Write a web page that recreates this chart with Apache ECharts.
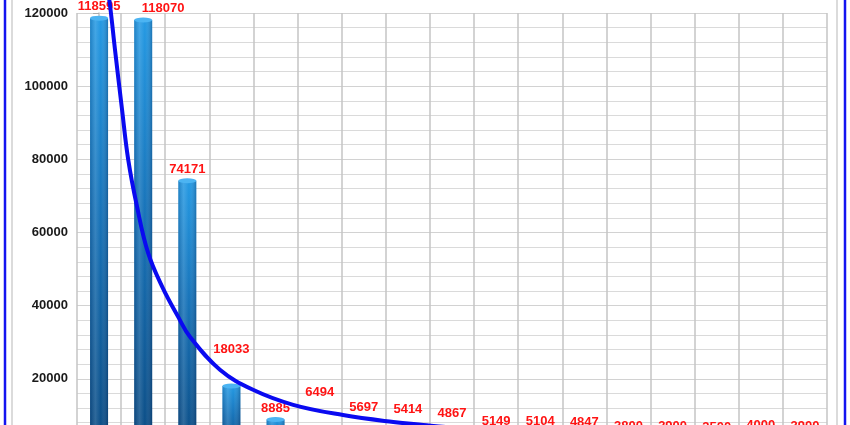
<!DOCTYPE html>
<html>
<head>
<meta charset="utf-8">
<script src="https://cdn.jsdelivr.net/npm/echarts@6/dist/echarts.min.js"></script>
<style>
html,body{margin:0;padding:0;background:#fff;overflow:hidden;}
#chart{width:850px;height:425px;}
</style>
</head>
<body>
<div id="chart"></div>
<script>
// ---- data ----
const categories = ['1','2','3','4','5','6','7','8','9','10','11','12','13','14','15','16','17'];
const barValues  = [118595,118070,74171,18033,8885,6494,5697,5414,4867,5149,5104,4847,3800,3900,3500,4000,3900];
// trend curve (position in category units from the first bar, value)
const trendX = [0.1,0.25,0.36,0.52,0.66,0.86,1.11,1.43,1.79,2.06,2.74,3.49,4.40,5.53,6.67,7.35,8,9,10,11,12,13,14,15,16];
const trendY = [135000,121900,110100,93700,80000,67100,54500,45200,37000,31500,22500,17000,12900,10100,8200,7400,6700,5900,5200,4700,4200,3900,3600,3300,3100];
const yTicks = [0,20000,40000,60000,80000,100000,120000];

// ---- label style nudges (style only, not data) ----
const labelNudge = [[0,0],[20,0],[0,0],[0,-25],[0,0],[0,-24],[0,-12],[0,-11],[0,-9],[0,0],[0,0],[0,0],[0,0],[0,0],[0,0],[0,0],[0,0]];

const chart = echarts.init(document.getElementById('chart'), null, {renderer:'canvas'});

const barFill = new echarts.graphic.LinearGradient(0,0,0,1,[
  {offset:0,color:'#2499e3'},
  {offset:0.45,color:'#1672b8'},
  {offset:1,color:'#0a4a82'}
]);
const barShade = new echarts.graphic.LinearGradient(0,0,1,0,[
  {offset:0,color:'rgba(0,20,60,0.18)'},
  {offset:0.3,color:'rgba(255,255,255,0.14)'},
  {offset:0.6,color:'rgba(255,255,255,0)'},
  {offset:1,color:'rgba(0,20,60,0.28)'}
]);

const option = {
  backgroundColor:'#ffffff',
  animation:false,
  grid:{left:77,right:23,top:13,bottom:-27,containLabel:false,outerBoundsMode:'none'},
  xAxis:[{
    type:'category',
    data:categories,
    boundaryGap:true,
    axisLine:{show:true,lineStyle:{color:'#bdbdbd'}},
    axisTick:{show:false},
    axisLabel:{show:false},
    splitLine:{show:true,interval:0,lineStyle:{color:'#c4c4c4',width:1.5}}
  },{
    type:'value',
    min:-0.5,
    max:categories.length-0.5,
    show:false,
    splitLine:{show:false}
  }],
  yAxis:{
    type:'value',
    min:yTicks[0],
    max:yTicks[yTicks.length-1],
    interval:yTicks[1]-yTicks[0],
    axisLine:{show:true,lineStyle:{color:'#c4c4c4',width:1.5}},
    axisTick:{show:true,length:6,lineStyle:{color:'#aaaaaa'}},
    axisLabel:{margin:9,color:'#1a1a1a',fontWeight:'bold',fontSize:13,fontFamily:'Liberation Sans, Arial, sans-serif',formatter:v=>String(v)},
    splitLine:{show:true,lineStyle:{color:'#d2d2d2',width:1}},
    minorTick:{show:false,splitNumber:5},
    minorSplitLine:{show:true,lineStyle:{color:'#dadada',width:1}}
  },
  graphic:[
    {type:'rect',shape:{x:12,y:-10,width:825,height:460},style:{fill:'none',stroke:'#cfcfcf',lineWidth:1.5},silent:true,z:0},
    {type:'rect',shape:{x:5,y:-10,width:840,height:460},style:{fill:'none',stroke:'#1414f0',lineWidth:2.5},silent:true,z:100}
  ],
  series:[
    {
      type:'bar',
      data:barValues.map((v,i)=>({value:v,label:{offset:labelNudge[i]}})),
      barWidth:18,
      itemStyle:{color:barFill},
      label:{show:true,position:'top',distance:5,color:'#ff1414',fontWeight:'bold',fontSize:13,fontFamily:'Liberation Sans, Arial, sans-serif'},
      z:2
    },
    {
      type:'bar',
      data:barValues,
      barWidth:18,
      barGap:'-100%',
      itemStyle:{color:barShade},
      silent:true,
      z:3
    },
    {
      type:'pictorialBar',
      data:barValues,
      symbol:'circle',
      symbolSize:[18,5],
      symbolPosition:'end',
      symbolOffset:[0,'-50%'],
      itemStyle:{color:'#4cb4f2'},
      silent:true,
      z:4
    },
    {
      type:'line',
      xAxisIndex:1,
      data:trendX.map((x,i)=>[x,trendY[i]]),
      smooth:0.4,
      clip:false,
      symbol:'none',
      lineStyle:{color:'#0a0af0',width:4},
      z:5
    }
  ]
};
chart.setOption(option);
</script>
</body>
</html>
